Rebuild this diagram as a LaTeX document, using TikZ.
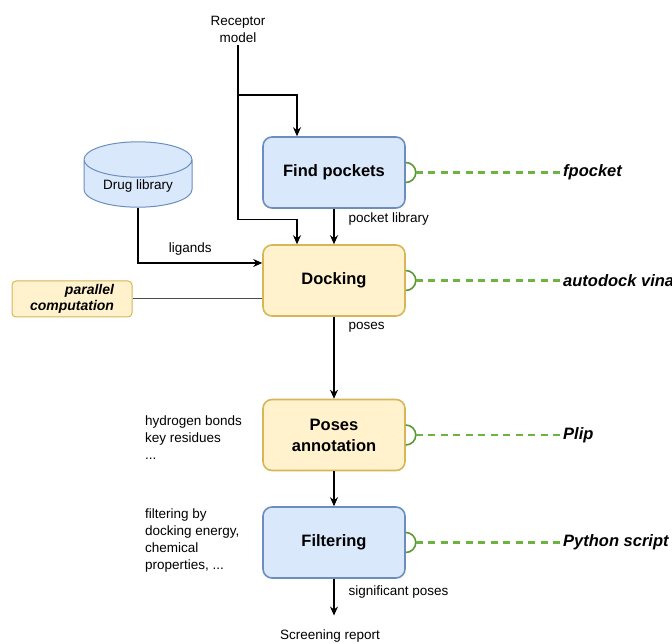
\documentclass[tikz,border=0pt]{standalone}
\usepackage{fontspec}
\setmainfont{Liberation Sans}
\usetikzlibrary{positioning,arrows.meta,shapes.geometric}

\definecolor{bluefill}{HTML}{DAE8FC}
\definecolor{blueline}{HTML}{6C8EBF}
\definecolor{yellowfill}{HTML}{FFF2CC}
\definecolor{yellowline}{HTML}{D6B656}
\definecolor{toolgreen}{HTML}{6DB33F}

\tikzset{
  stage/.style={draw, line width=1.6pt, rounded corners=9pt, minimum width=142pt,
    minimum height=71pt, align=center, font=\fontsize{16.5}{21}\selectfont\bfseries},
  bluestage/.style={stage, fill=bluefill, draw=blueline},
  yellowstage/.style={stage, fill=yellowfill, draw=yellowline},
  note/.style={font=\fontsize{13.5}{17}\selectfont, align=left, inner sep=0pt},
  tool/.style={font=\fontsize{16.5}{20}\selectfont\bfseries\itshape, anchor=west, inner sep=0pt},
  flow/.style={line width=1.2pt, -{Stealth[length=9pt,width=8pt]}},
  uses/.style={toolgreen, line width=2.2pt, dash pattern=on 7pt off 5.5pt},
  plug/.style={toolgreen!85!black, line width=1.6pt},
}

\begin{document}
\begin{tikzpicture}[x=1pt,y=1pt,node distance=108pt,on grid]
\useasboundingbox (0,0) rectangle (672,-644);

% main stages
\node[bluestage] (fp) at (334,-172.5) {Find pockets};
\node[yellowstage] (dk) [below=of fp] {Docking};
\node[yellowstage] (pa) [below=154.5pt of dk] {Poses\\annotation};
\node[bluestage] (fl) [below=107.5pt of pa] {Filtering};

% inputs
\node[note, align=center, inner sep=3pt] (rec) at (238,-29) {Receptor\\model};
\node[cylinder, shape border rotate=90, draw=blueline, fill=bluefill, line width=1pt,
  minimum width=108pt, minimum height=45pt, inner sep=2pt, aspect=0.48,
  font=\fontsize{13.5}{17}\selectfont] (drug) at (138,-186) {Drug library};
\node[draw=yellowline, fill=yellowfill, line width=1pt, rounded corners=4pt,
  minimum width=120pt, minimum height=36pt, align=right, inner sep=3pt,
  font=\fontsize{14}{16}\selectfont\bfseries\itshape] (par) at (72,-299) {parallel\\computation};

% side notes
\node[note, anchor=west] (hbnote) at (145,-438) {hydrogen bonds\\key residues\\...};
\node[note, anchor=west] (flnote) at (145,-540.5) {filtering by\\docking energy,\\chemical\\properties, ...};
\node[note] (rep) at (330,-636) {Screening report};

% tools
\node[tool] (fpocket) at (563,-172.5) {fpocket};
\node[tool] (vina) at (563,-280.5) {autodock vina};
\node[tool] (plip) at (563,-435) {Plip};
\node[tool] (pyscr) at (563,-542.5) {Python script};

% connectors
\coordinate (split) at (238,-95);
\draw[flow] (rec.south) |- ([xshift=-37pt,yshift=25pt]dk.north) -- ([xshift=-37pt]dk.north);
\draw[flow] (split) -| ([xshift=-37pt]fp.north);
\draw[flow] (drug.south) |- node[pos=0.71, above=7pt, note] {ligands} ([yshift=17.5pt]dk.west);
\draw[line width=1pt, black!70] (par.east) -- (par.east -| dk.west);
\draw[flow] (fp) -- node[pos=0.3, anchor=west, xshift=14pt, note] {pocket library} (dk);
\draw[flow] (dk) -- node[pos=0.13, anchor=west, xshift=14pt, note] {poses} (pa);
\draw[flow] (pa) -- (fl);
\draw[flow] (fl.south) -- node[pos=0.35, anchor=west, xshift=14pt, note] {significant poses} ([yshift=14pt]fl.south |- rep.north);

% tool links
\foreach \st/\tl in {fp/fpocket, dk/vina, pa/plip, fl/pyscr} {
  \draw[plug] ([yshift=10pt]\st.east) arc[start angle=90, end angle=-90, radius=10pt];
  \draw[uses] ([xshift=10pt]\st.east) -- (\tl.west);
}
\end{tikzpicture}
\end{document}
